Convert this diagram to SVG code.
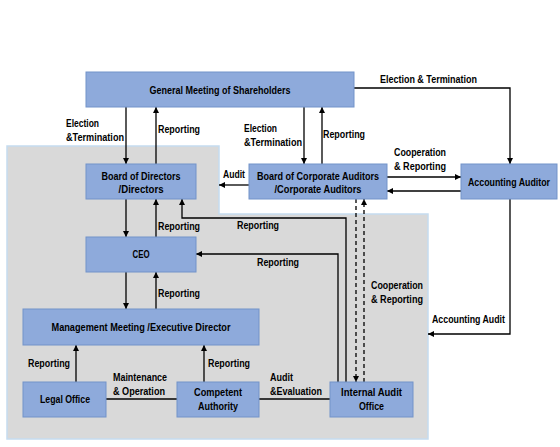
<svg xmlns="http://www.w3.org/2000/svg" width="560" height="447" viewBox="0 0 560 447">
<defs>
<marker id="ah" viewBox="0 0 10 10" refX="10" refY="5" markerWidth="6" markerHeight="6" markerUnits="userSpaceOnUse" orient="auto">
<path d="M0,0 L10,5 L0,10 z" fill="#000"/>
</marker>
<style>
.box{fill:#8EAADB;stroke:#7393C9;stroke-width:1}
.t{font-family:"Liberation Sans",Arial,sans-serif;font-size:11.5px;fill:#000;font-weight:bold}
.c{text-anchor:middle}
.ln{fill:none;stroke:#000;stroke-width:1.3}
.ar{marker-end:url(#ah)}
.d{stroke-dasharray:4,3}
</style>
</defs>
<rect width="560" height="447" fill="#fff"/>
<polygon points="7,146 219,146 219,214 428,214 428,439 7,439" fill="#D9D9D9" stroke="#C5DCF0" stroke-width="1.5"/>

<g id="connectors">
<path class="ln ar" d="M126,107 V164"/>
<path class="ln ar" d="M156,164 V107"/>
<path class="ln ar" d="M304,107 V164"/>
<path class="ln ar" d="M322,164 V107"/>
<path class="ln ar" d="M354,88 H510 V164"/>
<path class="ln ar" d="M249,185 H219"/>
<path class="ln ar" d="M387,177 H461"/>
<path class="ln ar" d="M461,191 H387"/>
<path class="ln ar" d="M510,199 V334 H428"/>
<path class="ln ar" d="M126,199 V237"/>
<path class="ln ar" d="M156,237 V199"/>
<path class="ln ar" d="M126,272 V309"/>
<path class="ln ar" d="M156,309 V272"/>
<path class="ln ar" d="M346,382 V218 H182 V199"/>
<path class="ln ar" d="M338,382 V254 H196"/>
<path class="ln ar d" d="M356,199 V382"/>
<path class="ln ar d" d="M364,382 V199"/>
<path class="ln ar" d="M76,382 V345"/>
<path class="ln ar" d="M204,382 V345"/>
<path class="ln" d="M106,399 H177"/>
<path class="ln" d="M259,399 H330"/>

<text class="t" x="66" y="127" textLength="33" lengthAdjust="spacingAndGlyphs">Election</text>
<text class="t" x="66" y="141" textLength="58" lengthAdjust="spacingAndGlyphs">&amp;Termination</text>
<text class="t" x="158" y="133" textLength="42" lengthAdjust="spacingAndGlyphs">Reporting</text>
<text class="t" x="244" y="132" textLength="33" lengthAdjust="spacingAndGlyphs">Election</text>
<text class="t" x="244" y="146" textLength="58" lengthAdjust="spacingAndGlyphs">&amp;Termination</text>
<text class="t" x="323" y="138" textLength="42" lengthAdjust="spacingAndGlyphs">Reporting</text>
<text class="t" x="380" y="83" textLength="97" lengthAdjust="spacingAndGlyphs">Election &amp; Termination</text>
<text class="t" x="394" y="156" textLength="52" lengthAdjust="spacingAndGlyphs">Cooperation</text>
<text class="t" x="394" y="170" textLength="52" lengthAdjust="spacingAndGlyphs">&amp; Reporting</text>
<text class="t" x="223" y="178" textLength="22" lengthAdjust="spacingAndGlyphs">Audit</text>
<text class="t" x="158" y="230" textLength="42" lengthAdjust="spacingAndGlyphs">Reporting</text>
<text class="t" x="237" y="229" textLength="42" lengthAdjust="spacingAndGlyphs">Reporting</text>
<text class="t" x="257" y="266" textLength="42" lengthAdjust="spacingAndGlyphs">Reporting</text>
<text class="t" x="158" y="297" textLength="42" lengthAdjust="spacingAndGlyphs">Reporting</text>
<text class="t" x="371" y="289" textLength="52" lengthAdjust="spacingAndGlyphs">Cooperation</text>
<text class="t" x="371" y="303" textLength="52" lengthAdjust="spacingAndGlyphs">&amp; Reporting</text>
<text class="t" x="432" y="323" textLength="73" lengthAdjust="spacingAndGlyphs">Accounting Audit</text>
<text class="t" x="28" y="367" textLength="42" lengthAdjust="spacingAndGlyphs">Reporting</text>
<text class="t" x="208" y="367" textLength="42" lengthAdjust="spacingAndGlyphs">Reporting</text>
<text class="t" x="113" y="381" textLength="54" lengthAdjust="spacingAndGlyphs">Maintenance</text>
<text class="t" x="113" y="395" textLength="52" lengthAdjust="spacingAndGlyphs">&amp; Operation</text>
<text class="t" x="270" y="381" textLength="23" lengthAdjust="spacingAndGlyphs">Audit</text>
<text class="t" x="270" y="395" textLength="52" lengthAdjust="spacingAndGlyphs">&amp;Evaluation</text>
</g>

<g id="gms">
<rect class="box" x="86" y="72" width="268" height="35"/>
<text class="t c" x="220" y="94" textLength="141" lengthAdjust="spacingAndGlyphs">General Meeting of Shareholders</text>
</g>
<g id="bod">
<rect class="box" x="86" y="164" width="110" height="35"/>
<text class="t c" x="141" y="180" textLength="79" lengthAdjust="spacingAndGlyphs">Board of Directors</text>
<text class="t c" x="141" y="193" textLength="45" lengthAdjust="spacingAndGlyphs">/Directors</text>
</g>
<g id="bca">
<rect class="box" x="249" y="164" width="138" height="35"/>
<text class="t c" x="318" y="180" textLength="122" lengthAdjust="spacingAndGlyphs">Board of Corporate Auditors</text>
<text class="t c" x="318" y="193" textLength="87" lengthAdjust="spacingAndGlyphs">/Corporate Auditors</text>
</g>
<g id="aa">
<rect class="box" x="461" y="164" width="96" height="35"/>
<text class="t c" x="509" y="186" textLength="82" lengthAdjust="spacingAndGlyphs" style="font-size:10px">Accounting Auditor</text>
</g>
<g id="ceo">
<rect class="box" x="86" y="237" width="110" height="35"/>
<text class="t c" x="141" y="258" textLength="17" lengthAdjust="spacingAndGlyphs">CEO</text>
</g>
<g id="mm">
<rect class="box" x="23" y="309" width="236" height="36"/>
<text class="t c" x="141" y="331" textLength="179" lengthAdjust="spacingAndGlyphs">Management Meeting /Executive Director</text>
</g>
<g id="legal">
<rect class="box" x="23" y="382" width="83" height="35"/>
<text class="t c" x="65" y="403" textLength="50" lengthAdjust="spacingAndGlyphs">Legal Office</text>
</g>
<g id="competent">
<rect class="box" x="177" y="382" width="82" height="35"/>
<text class="t c" x="218" y="396" textLength="48" lengthAdjust="spacingAndGlyphs">Competent</text>
<text class="t c" x="218" y="410" textLength="40" lengthAdjust="spacingAndGlyphs">Authority</text>
</g>
<g id="iao">
<rect class="box" x="330" y="382" width="83" height="35"/>
<text class="t c" x="371.5" y="396" textLength="61" lengthAdjust="spacingAndGlyphs">Internal Audit</text>
<text class="t c" x="371.5" y="410" textLength="25" lengthAdjust="spacingAndGlyphs">Office</text>
</g>
</svg>
